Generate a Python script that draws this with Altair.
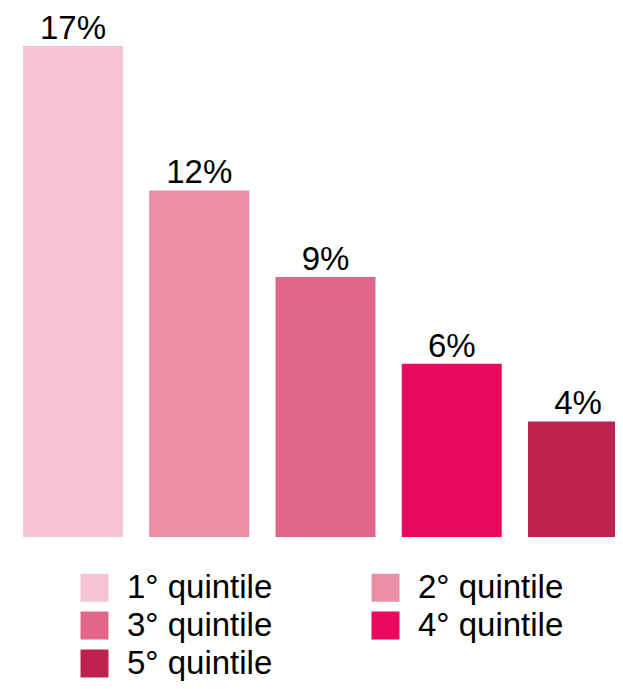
import altair as alt
import pandas as pd

categories = ["1° quintile", "2° quintile", "3° quintile", "4° quintile", "5° quintile"]
values = [17, 12, 9, 6, 4]
labels = ["17%", "12%", "9%", "6%", "4%"]
colors = ["#F5C4D3", "#EA8EA6", "#E2678A", "#E8095F", "#C0224F"]

df = pd.DataFrame({"cat": categories, "val": values, "lab": labels})

FONT = "Liberation Sans"

x = alt.X("cat:N", sort=categories, axis=None,
          scale=alt.Scale(paddingInner=0.208, paddingOuter=0.119))
y = alt.Y("val:Q", axis=None, scale=alt.Scale(domain=[0, 17.97], nice=False, zero=True))

bars = alt.Chart(df).mark_bar().encode(
    x=x, y=y,
    color=alt.Color("cat:N", sort=categories,
                    scale=alt.Scale(domain=categories, range=colors),
                    legend=alt.Legend(
                        title=None, orient="none", legendX=70, legendY=553,
                        direction="horizontal", columns=2,
                        symbolType="square", symbolSize=784, symbolStrokeWidth=0,
                        symbolOpacity=1,
                        labelFont=FONT, labelFontSize=33, labelColor="#000000",
                        labelOffset=16, columnPadding=96, rowPadding=4,
                        labelLimit=400)),
)

text = alt.Chart(df).mark_text(font=FONT, fontSize=33, baseline="alphabetic",
                               dy=-7, color="#000000").encode(
    x=x, y=y, text="lab:N")

chart = (bars + text).properties(
    width=635, height=519,
    autosize=alt.AutoSizeParams(type="none"),
    padding={"left": 0, "top": 10, "right": -28, "bottom": 144},
).configure_view(stroke=None)

chart.save("out.html", embed_options={"renderer": "svg", "actions": False})
